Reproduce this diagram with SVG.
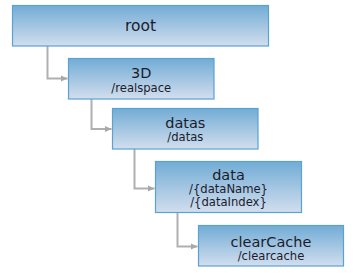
<svg xmlns="http://www.w3.org/2000/svg" width="362" height="280" viewBox="0 0 362 280">
<defs>
<linearGradient id="g" x1="0" y1="0" x2="0" y2="1">
<stop offset="0" stop-color="#72acd5"/>
<stop offset="1" stop-color="#d2deee"/>
</linearGradient>
<marker id="arr" markerWidth="8" markerHeight="8" refX="7" refY="4" orient="auto" markerUnits="userSpaceOnUse">
<path d="M0,0.8 L7,4 L0,7.2 Z" fill="#a8a8a8"/>
</marker>
<style>
.box{fill:url(#g);stroke:#5aa2d0;stroke-width:1.2}
.t{font-family:"DejaVu Sans",Verdana,sans-serif;font-size:14.5px;fill:#1c1c2c;text-anchor:middle}
.s{font-family:"DejaVu Sans",Verdana,sans-serif;font-size:11.6px;fill:#1c1c2c;text-anchor:middle}
.c{fill:none;stroke:#b0b0b0;stroke-width:2;marker-end:url(#arr)}
</style>
</defs>
<rect width="362" height="280" fill="#ffffff"/>
<g id="connectors">
<path class="c" d="M47.5,46 V78.5 H67.5"/>
<path class="c" d="M91.5,99 V129 H111.5"/>
<path class="c" d="M134.5,149 V188.5 H154.5"/>
<path class="c" d="M177.5,213 V246.5 H197.5"/>
</g>
<g id="root">
<rect class="box" x="12.5" y="5.5" width="256" height="40.5"/>
<text class="t" x="140.5" y="30.5" style="font-size:15.5px">root</text>
</g>
<g id="n3d">
<rect class="box" x="68.5" y="58.5" width="145.5" height="40.5"/>
<text class="t" x="141.3" y="77.5">3D</text>
<text class="s" x="141.3" y="91.5">/realspace</text>
</g>
<g id="datas">
<rect class="box" x="112.5" y="108.5" width="145.5" height="40.5"/>
<text class="t" x="185.3" y="127.5">datas</text>
<text class="s" x="185.3" y="140.8">/datas</text>
</g>
<g id="data">
<rect class="box" x="155.5" y="161.5" width="146" height="51"/>
<text class="t" x="228.5" y="180">data</text>
<text class="s" x="228.5" y="192.8">/{dataName}</text>
<text class="s" x="228.5" y="206">/{dataIndex}</text>
</g>
<g id="clearCache">
<rect class="box" x="198.5" y="225.5" width="145" height="40.5"/>
<text class="t" x="271" y="246.5">clearCache</text>
<text class="s" x="271" y="259.5">/clearcache</text>
</g>
</svg>
